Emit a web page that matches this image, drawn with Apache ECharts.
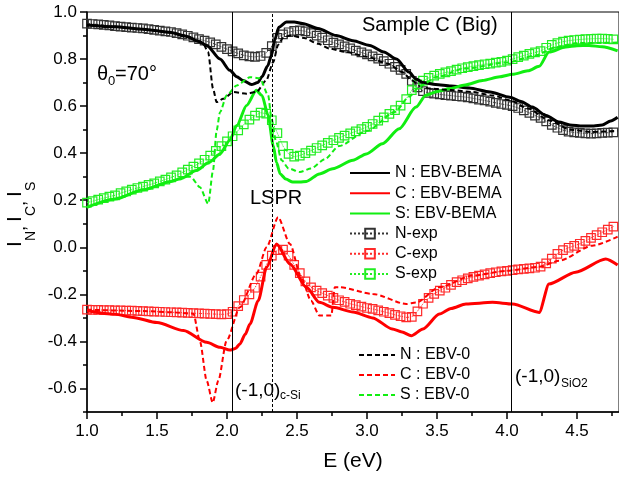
<!DOCTYPE html>
<html><head><meta charset="utf-8">
<script src="https://cdn.jsdelivr.net/npm/echarts@6/dist/echarts.min.js"></script>
<style>html,body{margin:0;padding:0;background:#fff}#c{width:619px;height:477px}</style>
</head><body><div id="c"></div>
<script>
// ---- data ----
const xMajor = [1.0,1.5,2.0,2.5,3.0,3.5,4.0,4.5];
const xMinor = [1.25,1.75,2.25,2.75,3.25,3.75,4.25,4.75];
const yMajor = [-0.6,-0.4,-0.2,0.0,0.2,0.4,0.6,0.8,1.0];
const yMinor = [-0.7,-0.5,-0.3,-0.1,0.1,0.3,0.5,0.7,0.9];

const expE = [1.00,1.04,1.08,1.12,1.16,1.20,1.24,1.28,1.32,1.36,1.40,1.44,1.48,1.52,1.56,1.60,1.64,1.68,1.72,1.76,1.80,1.84,1.88,1.92,1.96,2.00,2.04,2.08,2.12,2.16,2.20,2.24,2.28,2.32,2.36,2.40,2.44,2.48,2.52,2.56,2.60,2.64,2.68,2.72,2.76,2.80,2.84,2.88,2.92,2.96,3.00,3.04,3.08,3.12,3.16,3.20,3.24,3.28,3.32,3.36,3.40,3.44,3.48,3.52,3.56,3.60,3.64,3.68,3.72,3.76,3.80,3.84,3.88,3.92,3.96,4.00,4.04,4.08,4.12,4.16,4.20,4.24,4.28,4.32,4.36,4.40,4.44,4.48,4.52,4.56,4.60,4.64,4.68,4.72,4.76];

const nExp = [0.951,0.949,0.947,0.945,0.943,0.940,0.938,0.936,0.934,0.932,0.930,0.927,0.924,0.921,0.918,0.915,0.910,0.905,0.899,0.892,0.885,0.878,0.871,0.862,0.852,0.842,0.833,0.824,0.816,0.811,0.809,0.813,0.826,0.855,0.890,0.905,0.914,0.920,0.922,0.918,0.910,0.900,0.891,0.880,0.870,0.862,0.854,0.845,0.836,0.828,0.820,0.811,0.802,0.791,0.780,0.767,0.754,0.737,0.707,0.680,0.664,0.656,0.653,0.650,0.647,0.645,0.642,0.640,0.637,0.633,0.628,0.624,0.619,0.614,0.609,0.605,0.600,0.592,0.582,0.571,0.560,0.550,0.535,0.520,0.508,0.498,0.492,0.488,0.486,0.484,0.483,0.484,0.486,0.487,0.488];

const cExp = [-0.265,-0.266,-0.266,-0.267,-0.267,-0.268,-0.268,-0.269,-0.269,-0.270,-0.271,-0.272,-0.273,-0.274,-0.275,-0.276,-0.277,-0.278,-0.279,-0.280,-0.281,-0.282,-0.283,-0.284,-0.285,-0.284,-0.274,-0.250,-0.224,-0.200,-0.172,-0.125,-0.075,-0.035,-0.012,-0.010,-0.035,-0.075,-0.110,-0.145,-0.170,-0.184,-0.195,-0.205,-0.215,-0.225,-0.232,-0.240,-0.246,-0.252,-0.258,-0.262,-0.268,-0.274,-0.280,-0.287,-0.293,-0.298,-0.296,-0.272,-0.240,-0.215,-0.198,-0.184,-0.172,-0.160,-0.148,-0.140,-0.132,-0.126,-0.120,-0.115,-0.110,-0.106,-0.102,-0.100,-0.097,-0.094,-0.092,-0.090,-0.087,-0.082,-0.068,-0.048,-0.028,-0.012,-0.002,0.006,0.015,0.027,0.040,0.052,0.064,0.075,0.088];

const sExp = [0.190,0.196,0.203,0.209,0.215,0.221,0.230,0.238,0.245,0.252,0.258,0.265,0.272,0.280,0.288,0.297,0.306,0.318,0.330,0.343,0.357,0.372,0.390,0.410,0.430,0.450,0.472,0.497,0.522,0.543,0.560,0.572,0.568,0.540,0.485,0.430,0.397,0.385,0.390,0.400,0.411,0.422,0.433,0.444,0.455,0.465,0.475,0.484,0.493,0.502,0.512,0.524,0.538,0.552,0.567,0.583,0.602,0.630,0.668,0.692,0.708,0.720,0.730,0.737,0.743,0.749,0.755,0.761,0.766,0.770,0.774,0.778,0.781,0.785,0.788,0.793,0.800,0.808,0.815,0.822,0.828,0.834,0.848,0.860,0.868,0.874,0.878,0.881,0.883,0.885,0.886,0.887,0.887,0.886,0.884];

const nBema = [[1.0,0.945],[1.2,0.937],[1.4,0.927],[1.6,0.913],[1.7,0.898],[1.8,0.875],[1.855,0.858],[1.95,0.80],[2.02,0.752],[2.07,0.725],[2.115,0.709],[2.175,0.692],[2.22,0.70],[2.25,0.725],[2.29,0.77],[2.318,0.816],[2.34,0.88],[2.37,0.935],[2.425,0.957],[2.48,0.958],[2.54,0.951],[2.65,0.93],[2.78,0.90],[2.9,0.878],[3.02,0.858],[3.12,0.83],[3.21,0.80],[3.3,0.745],[3.35,0.715],[3.40,0.70],[3.49,0.692],[3.6,0.685],[3.73,0.677],[3.88,0.66],[4.02,0.638],[4.1,0.62],[4.18,0.596],[4.28,0.56],[4.37,0.532],[4.45,0.52],[4.54,0.515],[4.62,0.516],[4.68,0.52],[4.74,0.537],[4.79,0.553]];

const cBema = [[1.0,-0.27],[1.2,-0.285],[1.33,-0.298],[1.5,-0.32],[1.69,-0.354],[1.855,-0.404],[1.95,-0.425],[2.02,-0.437],[2.06,-0.43],[2.092,-0.411],[2.13,-0.37],[2.164,-0.326],[2.223,-0.227],[2.283,-0.085],[2.354,0.014],[2.45,-0.071],[2.567,-0.17],[2.66,-0.234],[2.757,-0.255],[2.9,-0.275],[3.04,-0.30],[3.18,-0.347],[3.25,-0.36],[3.316,-0.376],[3.40,-0.347],[3.517,-0.284],[3.6,-0.26],[3.707,-0.241],[3.897,-0.234],[4.04,-0.241],[4.23,-0.277],[4.30,-0.156],[4.49,-0.106],[4.705,-0.05],[4.79,-0.075]];

const sBema = [[1.0,0.17],[1.2,0.205],[1.4,0.245],[1.6,0.28],[1.665,0.291],[1.78,0.326],[1.87,0.36],[1.95,0.397],[2.02,0.455],[2.07,0.518],[2.14,0.603],[2.21,0.667],[2.25,0.645],[2.294,0.56],[2.33,0.433],[2.354,0.36],[2.38,0.312],[2.42,0.29],[2.47,0.277],[2.52,0.277],[2.567,0.28],[2.66,0.312],[2.755,0.334],[2.9,0.37],[2.995,0.397],[3.11,0.44],[3.23,0.504],[3.35,0.596],[3.42,0.646],[3.5,0.662],[3.59,0.674],[3.7,0.69],[3.825,0.709],[3.95,0.725],[4.04,0.735],[4.15,0.75],[4.23,0.769],[4.3,0.83],[4.42,0.851],[4.5,0.857],[4.586,0.858],[4.68,0.852],[4.79,0.835]];

const nEbv0 = [[1.0,0.945],[1.2,0.937],[1.4,0.927],[1.6,0.913],[1.7,0.898],[1.8,0.875],[1.83,0.865],[1.865,0.83],[1.9,0.675],[1.926,0.617],[1.973,0.631],[2.045,0.66],[2.14,0.653],[2.21,0.66],[2.28,0.709],[2.33,0.787],[2.365,0.86],[2.4,0.89],[2.45,0.90],[2.55,0.89],[2.65,0.865],[2.73,0.845],[2.85,0.83],[3.0,0.81],[3.15,0.78],[3.25,0.745],[3.32,0.71],[3.38,0.685],[3.45,0.675],[3.6,0.668],[3.75,0.66],[3.9,0.645],[4.02,0.625],[4.15,0.59],[4.3,0.54],[4.45,0.50],[4.6,0.49],[4.79,0.495]];

const cEbv0 = [[1.0,-0.265],[1.4,-0.271],[1.6,-0.276],[1.76,-0.282],[1.807,-0.40],[1.855,-0.567],[1.898,-0.66],[1.938,-0.567],[1.997,-0.397],[2.092,-0.255],[2.21,-0.113],[2.283,0.0],[2.365,0.128],[2.45,0.014],[2.53,-0.128],[2.6,-0.227],[2.66,-0.29],[2.745,-0.29],[2.77,-0.17],[2.805,-0.17],[3.04,-0.198],[3.28,-0.241],[3.35,-0.235],[3.517,-0.17],[3.755,-0.12],[4.0,-0.10],[4.23,-0.083],[4.373,-0.057],[4.61,0.007],[4.79,0.045]];

const sEbv0 = [[1.0,0.17],[1.2,0.205],[1.4,0.245],[1.6,0.28],[1.7,0.30],[1.74,0.30],[1.807,0.255],[1.866,0.185],[1.9,0.326],[1.926,0.497],[1.95,0.574],[1.998,0.646],[2.07,0.688],[2.164,0.723],[2.235,0.718],[2.294,0.646],[2.318,0.546],[2.35,0.45],[2.39,0.37],[2.44,0.335],[2.52,0.32],[2.6,0.335],[2.7,0.375],[2.8,0.43],[3.0,0.495],[3.2,0.575],[3.3,0.64],[3.38,0.685],[3.5,0.725],[3.7,0.76],[4.0,0.785],[4.2,0.815],[4.35,0.85],[4.5,0.868],[4.79,0.87]];

const vLines = [2.035, 2.32, 4.027];

// ---- chart ----
const FONT = "'Liberation Sans', Arial, sans-serif";
const BLACK = '#000', RED = '#ff0000', GREEN = '#11ee11';
const zip = (E, Y) => E.map((e, i) => [e, Y[i]]);

function expSeries(name, Y, color) {
  return {
    name, type: 'line', data: zip(expE, Y), symbol: 'rect', symbolSize: 8.5,
    showAllSymbol: true,
    itemStyle: { color: 'rgba(255,255,255,0)', borderColor: color, borderWidth: 1.2 },
    lineStyle: { color, width: 1, type: 'dotted' }, z: 2
  };
}
function modelSeries(name, data, color, dashed) {
  return {
    name, type: 'line', data, symbol: 'none', smooth: 0.25, smoothMonotone: 'x',
    itemStyle: { color },
    lineStyle: { color, width: dashed ? 2 : 3, type: dashed ? [5, 3] : 'solid' }, z: 3
  };
}

const series = [
  expSeries('N-exp', nExp, '#333'),
  expSeries('C-exp', cExp, '#ff2a2a'),
  expSeries('S-exp', sExp, '#22ee22'),
  modelSeries('N : EBV-BEMA', nBema, BLACK, false),
  modelSeries('C : EBV-BEMA', cBema, RED, false),
  modelSeries('S: EBV-BEMA', sBema, GREEN, false),
  modelSeries('N : EBV-0', nEbv0, BLACK, true),
  modelSeries('C : EBV-0', cEbv0, RED, true),
  modelSeries('S : EBV-0', sEbv0, GREEN, true)
];
series[0].markLine = {
  silent: true, symbol: 'none', label: { show: false }, animation: false,
  data: vLines.map((v, i) => ({ xAxis: v, lineStyle: { color: '#000', width: 1, type: i === 1 ? [3, 2] : 'solid' } }))
};

const axisCommon = { type: 'value', splitLine: { show: false } };
const tickStyle = { color: '#000', width: 1.5 };

function txt(x, y, text, size, align) {
  return { type: 'text', x, y, style: { text, font: size + 'px ' + FONT, fill: '#000', align: align || 'left', verticalAlign: 'middle' } };
}
const hideSym = { color: 'rgba(0,0,0,0)', borderColor: 'rgba(0,0,0,0)', borderWidth: 0, opacity: 0 };
const lineItem = name => ({ name, itemStyle: hideSym });
const legendText = { fontSize: 16, color: '#000', fontFamily: FONT };

const chart = echarts.init(document.getElementById('c'), null, { renderer: 'canvas' });
chart.setOption({
  animation: false,
  backgroundColor: '#fff',
  textStyle: { fontFamily: FONT },
  grid: { left: 87, right: -2, top: 12, bottom: 65, show: true, borderColor: '#000', borderWidth: 1, backgroundColor: 'transparent' },
  xAxis: [
    Object.assign({}, axisCommon, { min: 1.0, max: 4.8, position: 'bottom',
      axisLine: { onZero: false, lineStyle: { color: '#000', width: 1.5 } },
      axisTick: { inside: false, length: 7, lineStyle: tickStyle, customValues: xMajor },
      axisLabel: { customValues: xMajor, formatter: v => v.toFixed(1), fontSize: 17, color: '#000', margin: 11, fontFamily: FONT } }),
    Object.assign({}, axisCommon, { min: 1.0, max: 4.8, position: 'bottom',
      axisLine: { show: false, onZero: false },
      axisTick: { inside: false, length: 4, lineStyle: tickStyle, customValues: xMinor },
      axisLabel: { show: false } })
  ],
  yAxis: [
    Object.assign({}, axisCommon, { min: -0.7, max: 1.0, position: 'left',
      axisLine: { show: true, onZero: false, lineStyle: { color: '#000', width: 1.5 } },
      axisTick: { show: true, inside: false, length: 7, lineStyle: tickStyle, customValues: yMajor },
      axisLabel: { customValues: yMajor, formatter: v => v.toFixed(1), fontSize: 17, color: '#000', margin: 10, fontFamily: FONT } }),
    Object.assign({}, axisCommon, { min: -0.7, max: 1.0, position: 'left',
      axisLine: { show: false, onZero: false },
      axisTick: { show: true, inside: false, length: 4, lineStyle: tickStyle, customValues: yMinor },
      axisLabel: { show: false } })
  ],
  legend: [
    { data: [lineItem('N : EBV-BEMA'), lineItem('C : EBV-BEMA'), lineItem('S: EBV-BEMA'), 'N-exp', 'C-exp', 'S-exp'],
      orient: 'vertical', left: 344, top: 160, itemWidth: 40, itemHeight: 12, itemGap: 4.2,
      selectedMode: false, textStyle: legendText },
    { data: [lineItem('N : EBV-0'), lineItem('C : EBV-0'), lineItem('S : EBV-0')],
      orient: 'vertical', left: 353, top: 342, itemWidth: 36, itemHeight: 12, itemGap: 4,
      selectedMode: false, textStyle: legendText }
  ],
  graphic: [
    txt(97, 74, 'θ', 20), txt(108, 81, '0', 13), txt(115, 74, '=70°', 20),
    txt(362, 25, 'Sample C (Big)', 20),
    txt(250, 198, 'LSPR', 20),
    txt(235, 391, '(-1,0)', 19), txt(280, 396, 'c-Si', 12),
    txt(515, 377, '(-1,0)', 19), txt(561, 384, 'SiO2', 12),
    txt(353, 461, 'E (eV)', 21, 'center'),
    { type: 'group', x: 22, y: 247, rotation: Math.PI / 2, children: [
      txt(0, -7, 'I', 21), txt(6, 9, 'N', 14), txt(16, -2, ',', 18),
      txt(25, -7, 'I', 21), txt(31, 9, 'C', 14), txt(41, -2, ',', 18),
      txt(50, -7, 'I', 21), txt(56, 9, 'S', 14)
    ] }
  ],
  series
});
</script>
</body></html>
